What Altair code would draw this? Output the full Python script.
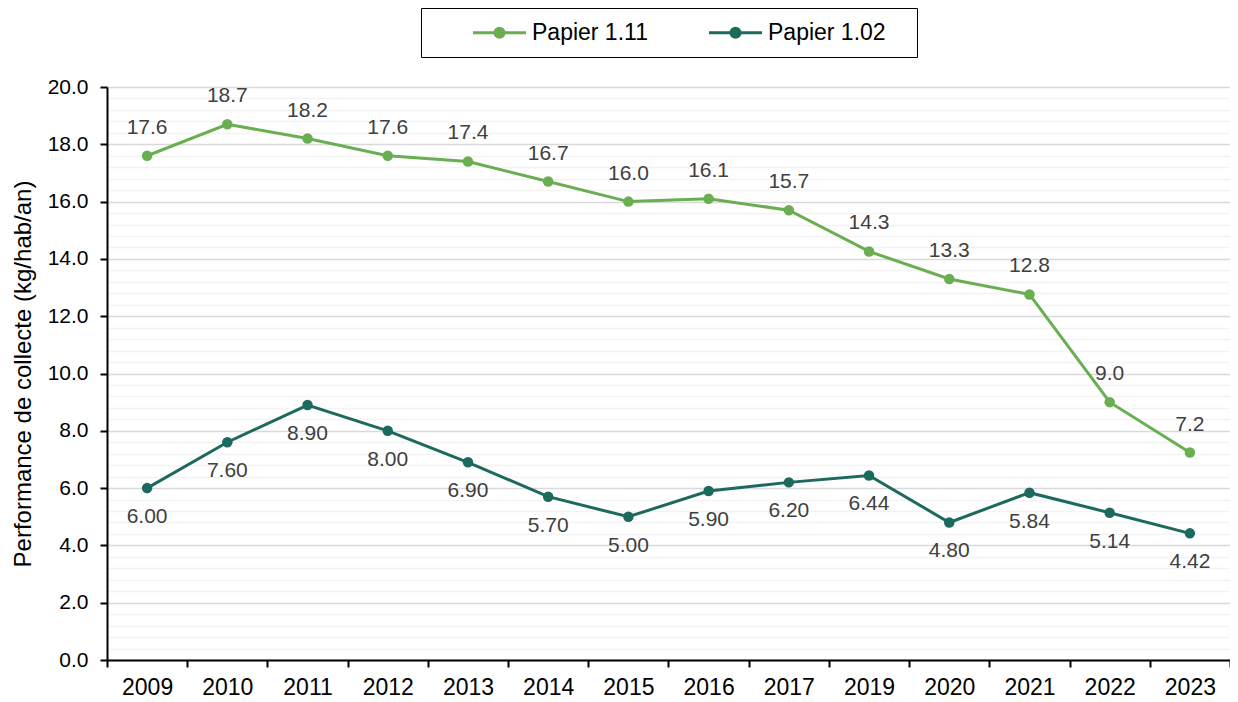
import altair as alt
import pandas as pd

years = ["2009", "2010", "2011", "2012", "2013", "2014", "2015", "2016",
         "2017", "2019", "2020", "2021", "2022", "2023"]
papier_111 = [17.6, 18.7, 18.2, 17.6, 17.4, 16.7, 16.0, 16.1, 15.7, 14.26,
              13.3, 12.76, 9.0, 7.24]
papier_102 = [6.00, 7.60, 8.90, 8.00, 6.90, 5.70, 5.00, 5.90, 6.20, 6.44,
              4.80, 5.84, 5.14, 4.42]
series = ["Papier 1.11", "Papier 1.02"]
colors = ["#6aae52", "#1c6a5e"]
y_ticks = [0, 0.4, 0.8, 1.2, 1.6, 2, 2.4, 2.8, 3.2, 3.6, 4, 4.4, 4.8, 5.2, 5.6,
           6, 6.4, 6.8, 7.2, 7.6, 8, 8.4, 8.8, 9.2, 9.6, 10, 10.4, 10.8, 11.2,
           11.6, 12, 12.4, 12.8, 13.2, 13.6, 14, 14.4, 14.8, 15.2, 15.6, 16,
           16.4, 16.8, 17.2, 17.6, 18, 18.4, 18.8, 19.2, 19.6, 20]

rows = []
for i, y in enumerate(years):
    rows.append({"year": y, "serie": series[0], "value": papier_111[i],
                 "label": f"{papier_111[i]:.1f}"})
    rows.append({"year": y, "serie": series[1], "value": papier_102[i],
                 "label": f"{papier_102[i]:.2f}"})
df = pd.DataFrame(rows)

FONT = "Liberation Sans"
major = "abs(datum.value / 2 - round(datum.value / 2)) < 0.001"

x = alt.X("year:N", sort=years, title=None, bandPosition=0.5,
          scale=alt.Scale(type="band", paddingInner=0, paddingOuter=0),
          axis=alt.Axis(tickBand="extent", labelAngle=0, tickSize=7,
                        tickColor="black", tickWidth=2, domainColor="black",
                        domainWidth=2, labelFontSize=23, labelColor="black",
                        labelPadding=9, grid=False, labelFont=FONT))
y = alt.Y("value:Q", title="Performance de collecte (kg/hab/an)",
          scale=alt.Scale(domain=[0, 20], nice=False),
          axis=alt.Axis(values=y_ticks,
                        labelExpr=f"({major}) ? format(datum.value, '.1f') : ''",
                        gridColor={"condition": {"test": major, "value": "#d9d9d9"},
                                   "value": "#f3f3f3"},
                        gridWidth=1.5,
                        tickOpacity={"condition": {"test": major, "value": 1},
                                     "value": 0},
                        tickSize=7, tickColor="black", tickWidth=2,
                        domainColor="black", domainWidth=2,
                        labelFontSize=21, labelColor="black", labelPadding=12,
                        labelFont=FONT, titleFont=FONT, titleFontSize=24,
                        titleFontWeight="normal", titleColor="black",
                        titlePadding=12))
color = alt.Color("serie:N", sort=series,
                  scale=alt.Scale(domain=series, range=colors),
                  legend=alt.Legend(
                      title=None,
                      orient="none", legendX=314, legendY=-79,
                      direction="horizontal",
                      symbolType="M-2.5,0H2.5M0.43,0A0.43,0.43,0,1,1,-0.43,0A0.43,0.43,0,1,1,0.43,0ZM15.4,0",
                      symbolSize=449, symbolStrokeWidth=3,
                      symbolOffset=54,
                      labelFontSize=23, labelFont=FONT, labelColor="black",
                      labelOffset=20, columnPadding=0, padding=12,
                      strokeColor="black"))

base = alt.Chart(df)
lines = base.mark_line(strokeWidth=3).encode(x=x, y=y, color=color)
points = base.mark_point(filled=True, size=110, opacity=1).encode(
    x=x, y=y, color=alt.Color("serie:N", sort=series,
                              scale=alt.Scale(domain=series, range=colors),
                              legend=None))
text_top = base.transform_filter(alt.datum.serie == series[0]).mark_text(
    dy=-28, fontSize=21, font=FONT, color="#404040").encode(
    x=x, y=y, text="label:N")
text_bot = base.transform_filter(alt.datum.serie == series[1]).mark_text(
    dy=29, fontSize=21, font=FONT, color="#404040").encode(
    x=x, y=y, text="label:N")

chart = alt.layer(lines, points, text_top, text_bot).properties(
    width=1123, height=573,
    autosize=alt.AutoSizeParams(type="none"),
    padding={"left": 99, "top": 79, "right": 0, "bottom": 40},
).configure_view(stroke=None).configure(background="white")

chart.save("out.html", embed_options={"renderer": "svg", "actions": False})
